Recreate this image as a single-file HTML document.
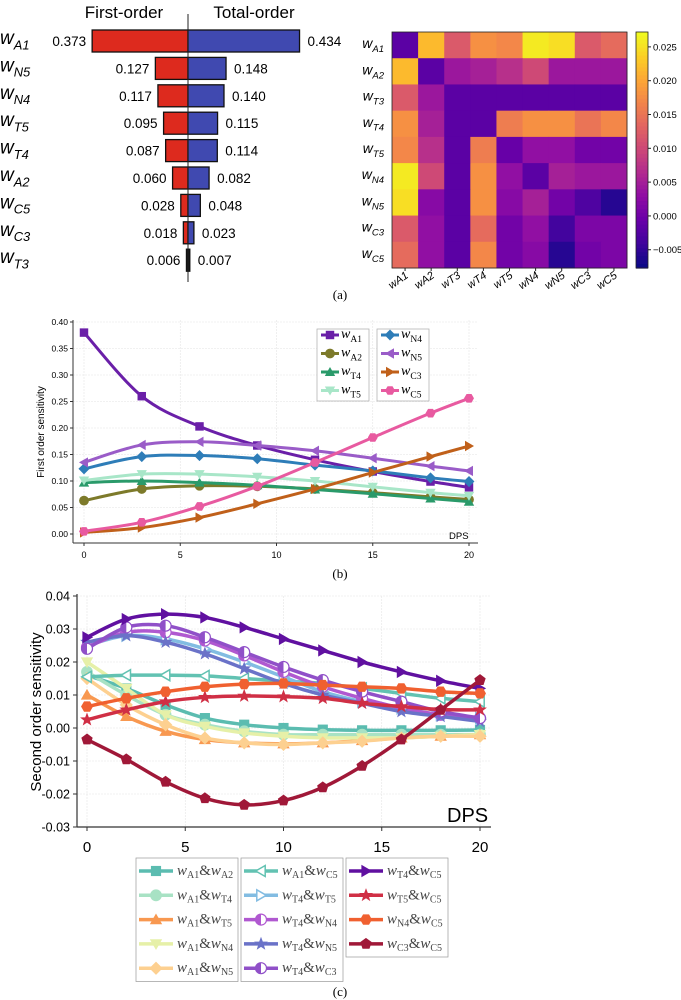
<!DOCTYPE html>
<html><head><meta charset="utf-8"><style>
body{margin:0;background:#fff}
svg{display:block}
text{font-family:"Liberation Sans",sans-serif}
.serif{font-family:"Liberation Serif",serif}
</style></head><body>
<svg id="fig" width="681" height="1000" viewBox="0 0 681 1000" xmlns="http://www.w3.org/2000/svg">
<g id="pa"></g>
<g id="pb"></g>
<g id="pc"></g>
<text x="340" y="299" font-size="13" text-anchor="middle" class="serif">(a)</text>
<text x="340" y="578" font-size="13" text-anchor="middle" class="serif">(b)</text>
<text x="340" y="996" font-size="13" text-anchor="middle" class="serif">(c)</text>
</svg>
<script>
// ---------- Panel (a) data ----------
const tornadoParams = ["A1","N5","N4","T5","T4","A2","C5","C3","T3"];
const firstOrder = [0.373,0.127,0.117,0.095,0.087,0.060,0.028,0.018,0.006];
const totalOrder = [0.434,0.148,0.140,0.115,0.114,0.082,0.048,0.023,0.007];
const heatLabels = ["A1","A2","T3","T4","T5","N4","N5","C3","C5"];
const heatValues = [
 [-0.002,0.022,0.012,0.018,0.017,0.026,0.025,0.012,0.014],
 [0.022,-0.002,0.004,0.005,0.007,0.010,0.004,0.004,0.004],
 [0.012,0.004,-0.002,-0.002,-0.002,-0.002,-0.002,-0.002,-0.002],
 [0.018,0.005,-0.002,-0.002,0.016,0.018,0.018,0.015,0.017],
 [0.017,0.007,-0.002,0.016,-0.001,0.003,0.003,0.000,0.000],
 [0.026,0.010,-0.002,0.018,0.003,-0.002,0.005,0.004,0.004],
 [0.025,0.002,-0.002,0.018,0.002,0.005,0.000,-0.003,-0.006],
 [0.012,0.003,-0.002,0.014,0.000,0.003,-0.004,0.001,0.001],
 [0.014,0.003,-0.002,0.017,0.000,0.002,-0.006,0.000,0.001]];
const cbarTicks = [-0.005,0.000,0.005,0.010,0.015,0.020,0.025];
// ---------- Panel (b) data ----------
const bX = [0,3,6,9,12,15,18,20];
const bNames = ["A1","A2","T4","T5","N4","N5","C3","C5"];
const bA1 = [.38,.26,.203,.167,.14,.118,.099,.088];
const bA2 = [.063,.085,.091,.09,.085,.078,.07,.065];
const bT4 = [.097,.1,.097,.092,.084,.076,.067,.061];
const bT5 = [.101,.113,.113,.108,.1,.089,.078,.072];
const bN4 = [.123,.146,.148,.142,.13,.119,.106,.099];
const bN5 = [.135,.168,.174,.167,.157,.143,.128,.119];
const bC3 = [.003,.012,.031,.057,.085,.116,.146,.166];
const bC5 = [.005,.022,.052,.09,.135,.182,.228,.256];
const bYTicks = [0,0.05,0.10,0.15,0.20,0.25,0.30,0.35,0.40];
const bXTicks = [0,5,10,15,20];
// ---------- Panel (c) data ----------
const cX = [0,2,4,6,8,10,12,14,16,18,20];
const cPairs = [["A1","A2"],["A1","T4"],["A1","T5"],["A1","N4"],["A1","N5"],["A1","C5"],["T4","T5"],["T4","N4"],["T4","N5"],["T4","C3"],["T4","C5"],["T5","C5"],["N4","C5"],["C3","C5"]];
const cA1A2 = [.016,.012,.007,.003,.001,0,-.0005,-.0007,-.0007,-.0007,-.0006];
const cA1T4 = [.017,.01,.004,.001,-.001,-.002,-.002,-.002,-.002,-.002,-.002];
const cA1T5 = [.01,.0035,-.001,-.0035,-.0045,-.0048,-.0045,-.0038,-.003,-.0025,-.002];
const cA1N4 = [.02,.012,.004,.0005,-.0015,-.0025,-.003,-.003,-.003,-.0025,-.002];
const cA1N5 = [.015,.007,.001,-.003,-.0045,-.005,-.0045,-.004,-.003,-.0025,-.0025];
const cA1C5 = [.0155,.016,.016,.0158,.015,.0142,.0135,.012,.0105,.009,.008];
const cT4T5 = [.025,.028,.027,.024,.02,.0155,.011,.008,.006,.004,.003];
const cT4N4 = [.0245,.029,.029,.0265,.022,.017,.0125,.009,.006,.004,.003];
const cT4N5 = [.026,.028,.026,.0225,.018,.0135,.01,.0075,.005,.0035,.002];
const cT4C3 = [.024,.0305,.031,.0275,.023,.0185,.0145,.011,.008,.005,.003];
const cT4C5 = [.0275,.033,.0345,.0335,.0305,.027,.0235,.02,.017,.0143,.012];
const cT5C5 = [.0025,.0055,.008,.0093,.0097,.0095,.009,.0075,.0065,.0056,.0055];
const cN4C5 = [.0065,.009,.011,.0125,.0133,.0135,.013,.0125,.012,.011,.0105];
const cC3C5 = [-.0035,-.0095,-.0163,-.0213,-.0233,-.022,-.018,-.0115,-.0035,.0055,.0145];
const cYTicks = [-0.03,-0.02,-0.01,0,0.01,0.02,0.03,0.04];
const cXTicks = [0,5,10,15,20];

const NS="http://www.w3.org/2000/svg";
function mk(tag,attrs,parent){const e=document.createElementNS(NS,tag);for(const k in attrs)e.setAttribute(k,attrs[k]);if(parent)parent.appendChild(e);return e;}
function wlabel(parent,x,y,sub,size,anchor,cls,italicSub){
  const t=mk('text',{x:x,y:y,'font-size':size,'text-anchor':anchor||'start'},parent);
  if(cls)t.setAttribute('class',cls);
  const a=mk('tspan',{'font-style':'italic'},t);a.textContent='w';
  const b=mk('tspan',{'font-size':size*0.68,dy:size*0.28,'font-style':italicSub?'italic':'normal'},t);b.textContent=sub;
  return t;
}
function smooth(p){let d=`M${p[0][0]},${p[0][1]}`;for(let i=0;i<p.length-1;i++){const p0=p[i-1]||p[i],p1=p[i],p2=p[i+1],p3=p[i+2]||p2;
 d+=` C${p1[0]+(p2[0]-p0[0])/6},${p1[1]+(p2[1]-p0[1])/6} ${p2[0]-(p3[0]-p1[0])/6},${p2[1]-(p3[1]-p1[1])/6} ${p2[0]},${p2[1]}`;}return d;}
function poly(n,r,x,y,rot){let s=[];for(let i=0;i<n;i++){const a=rot+i*2*Math.PI/n;s.push((x+r*Math.cos(a)).toFixed(1)+','+(y+r*Math.sin(a)).toFixed(1));}return s.join(' ');}
function marker(parent,type,x,y,r,color,hollow){
  const f=hollow?'#fff':color;const st={fill:f,stroke:color,'stroke-width':hollow?1.5:0.8};
  let e;
  if(type==='square')e=mk('rect',Object.assign({x:x-r*0.85,y:y-r*0.85,width:r*1.7,height:r*1.7},st),parent);
  else if(type==='circle')e=mk('circle',Object.assign({cx:x,cy:y,r:r},st),parent);
  else if(type==='up')e=mk('polygon',Object.assign({points:poly(3,r*1.15,x,y+1,-Math.PI/2)},st),parent);
  else if(type==='down')e=mk('polygon',Object.assign({points:poly(3,r*1.15,x,y-1,Math.PI/2)},st),parent);
  else if(type==='left')e=mk('polygon',Object.assign({points:poly(3,r*1.15,x+1,y,Math.PI)},st),parent);
  else if(type==='right')e=mk('polygon',Object.assign({points:poly(3,r*1.15,x-1,y,0)},st),parent);
  else if(type==='diamond')e=mk('polygon',Object.assign({points:poly(4,r*1.1,x,y,0)},st),parent);
  else if(type==='hex')e=mk('polygon',Object.assign({points:poly(6,r,x,y,0)},st),parent);
  else if(type==='pent')e=mk('polygon',Object.assign({points:poly(5,r,x,y,-Math.PI/2)},st),parent);
  else if(type==='star'){let s=[];for(let i=0;i<10;i++){const a=-Math.PI/2+i*Math.PI/5,rr=i%2?r*0.45:r*1.1;s.push((x+rr*Math.cos(a)).toFixed(1)+','+(y+rr*Math.sin(a)).toFixed(1));}e=mk('polygon',Object.assign({points:s.join(' ')},st),parent);}
  else if(type==='half'){e=mk('g',{},parent);mk('circle',{cx:x,cy:y,r:r,fill:'#fff',stroke:color,'stroke-width':1.2},e);mk('path',{d:`M${x},${y-r} A${r},${r} 0 0 0 ${x},${y+r} Z`,fill:color},e);}
  return e;
}
function plasma(t){const s=['#0d0887','#41049d','#6a00a8','#8f0da4','#b12a90','#cc4778','#e16462','#f2844b','#fca636','#fcce25','#f0f921'];
 t=Math.max(0,Math.min(1,t));const i=Math.min(9,Math.floor(t*10)),f=t*10-i;const h=c=>[1,3,5].map(k=>parseInt(c.substr(k,2),16));
 const a=h(s[i]),b=h(s[i+1]);return 'rgb('+a.map((v,k)=>Math.round(v+(b[k]-v)*f)).join(',')+')';}

// ================= Panel A =================
const pa=document.getElementById('pa');
const cx0=188,sc=257,rowY0=41,rowDy=27.4,bh=22;
let t=mk('text',{x:124,y:18,'font-size':17,'text-anchor':'middle'},pa);t.textContent='First-order';


t=mk('text',{x:254,y:18,'font-size':17,'text-anchor':'middle'},pa);t.textContent='Total-order';


tornadoParams.forEach((p,i)=>{
  const y=rowY0+i*rowDy;
  const l=wlabel(pa,0,y+3,p,19,'start','',true);
  
  
  const fw=firstOrder[i]*sc,tw=totalOrder[i]*sc;
  const r1=mk('rect',{x:cx0-fw,y:y-bh/2,width:fw,height:bh,fill:i===8?'#111':'#dd2a1e',stroke:'#111','stroke-width':1.3},pa);
  
  
  const r2=mk('rect',{x:cx0,y:y-bh/2,width:tw,height:bh,fill:i===8?'#111':'#4049b0',stroke:'#111','stroke-width':1.3},pa);
  
  
  const v1=mk('text',{x:cx0-fw-6,y:y+5,'font-size':13.5,'text-anchor':'end'},pa);v1.textContent=firstOrder[i].toFixed(3);
  
  
  const v2=mk('text',{x:cx0+tw+8,y:y+5,'font-size':13.5},pa);v2.textContent=totalOrder[i].toFixed(3);
  
  
});
const cl=mk('line',{x1:cx0,y1:14,x2:cx0,y2:282,stroke:'#222','stroke-width':1},pa);


// heatmap
const hx=392,hy=32,hw=235,hh=236,n=heatLabels.length,vmin=-0.0077,vmax=0.0272;
const cw=hw/n,ch=hh/n;
heatValues.forEach((row,r)=>row.forEach((v,c)=>{
  const e=mk('rect',{x:hx+c*cw,y:hy+r*ch,width:cw+0.5,height:ch+0.5,fill:plasma((v-vmin)/(vmax-vmin))},pa);
  
  
}));
mk('rect',{x:hx,y:hy,width:hw,height:hh,fill:'none',stroke:'#222','stroke-width':0.8},pa);
heatLabels.forEach((p,i)=>{
  const l=wlabel(pa,384,hy+i*ch+ch/2+3,p,14,'end','',true);
  
  
  const x=hx+i*cw+cw/2;
  mk('line',{x1:x,y1:hy+hh,x2:x,y2:hy+hh+3,stroke:'#222'},pa);
  const g=mk('g',{transform:`translate(${x+4},${hy+hh+9}) rotate(-35)`},pa);
  
  
  const tt=mk('text',{x:0,y:0,'font-size':11,'text-anchor':'end','font-style':'italic'},g);tt.textContent='w'+p;
});
// colorbar
const cbx=636,cby=32,cbw=12,cbh=236;
const cbg=mk('g',{},pa);


for(let i=0;i<60;i++){mk('rect',{x:cbx,y:cby+i*cbh/60,width:cbw,height:cbh/60+0.6,fill:plasma(1-i/59)},cbg);}
mk('rect',{x:cbx,y:cby,width:cbw,height:cbh,fill:'none',stroke:'#222','stroke-width':0.8},cbg);
cbarTicks.forEach(v=>{const y=cby+(vmax-v)/(vmax-vmin)*cbh;
  mk('line',{x1:cbx+cbw,y1:y,x2:cbx+cbw+3,y2:y,stroke:'#222'},cbg);
  const tx=mk('text',{x:cbx+cbw+5,y:y+3.5,'font-size':9.5},cbg);tx.textContent=(v<0?'\u2212':'')+Math.abs(v).toFixed(3);});

// ================= Panel B =================
const pb=document.getElementById('pb');
const bx=v=>84+v*19.25, by=v=>534-v*530;
const bSeries=[bA1,bA2,bT4,bT5,bN4,bN5,bC3,bC5];
const bColors=['#6a1fa8','#7d7a2a','#2a9a6a','#a8e6c8','#2e7db8','#9a5cc8','#c0601a','#e85aa0'];
const bMarks=['square','circle','up','down','diamond','left','right','hex'];
bYTicks.forEach(v=>{mk('line',{x1:73,y1:by(v),x2:478,y2:by(v),stroke:'#e4e4e4','stroke-width':0.6,'stroke-dasharray':'2,1'},pb);
  mk('line',{x1:70,y1:by(v),x2:73,y2:by(v),stroke:'#333'},pb);
  const tx=mk('text',{x:68,y:by(v)+3,'font-size':8.5,'text-anchor':'end'},pb);tx.textContent=v.toFixed(2);
  
  });
bXTicks.forEach(v=>{mk('line',{x1:bx(v),y1:320,x2:bx(v),y2:543,stroke:'#e4e4e4','stroke-width':0.6,'stroke-dasharray':'2,1'},pb);
  mk('line',{x1:bx(v),y1:543,x2:bx(v),y2:546,stroke:'#333'},pb);
  const tx=mk('text',{x:bx(v),y:558,'font-size':9,'text-anchor':'middle'},pb);tx.textContent=v;
  
  });
mk('line',{x1:73,y1:320,x2:73,y2:543,stroke:'#333'},pb);
mk('line',{x1:73,y1:543,x2:478,y2:543,stroke:'#333'},pb);
t=mk('text',{transform:'translate(44,432) rotate(-90)','font-size':10,'text-anchor':'middle'},pb);t.textContent='First order sensitivity';


t=mk('text',{x:449,y:539,'font-size':9.5},pb);t.textContent='DPS';


bSeries.forEach((s,k)=>{const g=mk('g',{},pb);
  
  
  const pts=s.map((v,i)=>[bx(bX[i]),by(v)]);
  mk('path',{d:smooth(pts),fill:'none',stroke:bColors[k],'stroke-width':3,'stroke-linecap':'round'},g);
  pts.forEach(p=>marker(g,bMarks[k],p[0],p[1],4.5,bColors[k]));});
// legend b
[[317,0],[377,4]].forEach(([lx,st])=>{
  const lg=mk('g',{},pb);
  
  
  mk('rect',{x:lx,y:329,width:52,height:72,fill:'#fff',stroke:'#aaa','stroke-width':0.7},lg);
  for(let j=0;j<4;j++){const k=st+j,y=335+j*18.5;
    mk('line',{x1:lx+4,y1:y,x2:lx+22,y2:y,stroke:bColors[k],'stroke-width':3},lg);
    marker(lg,bMarks[k],lx+13,y,4.5,bColors[k]);
    wlabel(lg,lx+24,y+3,bNames[k],14,'start','serif',false);}
});

// ================= Panel C =================
const pc=document.getElementById('pc');
const xc=v=>87+v*19.65, yc=v=>596+(0.04-v)*3300;
const cSeries=[cA1A2,cA1T4,cA1T5,cA1N4,cA1N5,cA1C5,cT4T5,cT4N4,cT4N5,cT4C3,cT4C5,cT5C5,cN4C5,cC3C5];
const cColors=['#5bbcb0','#a8e2c4','#f89850','#e6f0a8','#fdd090','#62c2b2','#82bce2','#b058d0','#6a72c8','#9050c8','#6010a0','#d02f45','#f06030','#a01838'];
const cMarks=['square','circle','up','down','diamond','left','right','half','star','half','right','star','hex','pent'];
const cHollow=[false,false,false,false,false,true,true,false,false,false,false,false,false,false];
cYTicks.forEach(v=>{mk('line',{x1:77,y1:yc(v),x2:490,y2:yc(v),stroke:'#e4e4e4','stroke-width':0.6,'stroke-dasharray':'2,1'},pc);
  mk('line',{x1:73,y1:yc(v),x2:77,y2:yc(v),stroke:'#333'},pc);
  const tx=mk('text',{x:70,y:yc(v)+4.5,'font-size':12.5,'text-anchor':'end'},pc);tx.textContent=v.toFixed(2);
  
  });
cXTicks.forEach(v=>{mk('line',{x1:xc(v),y1:596,x2:xc(v),y2:827,stroke:'#e4e4e4','stroke-width':0.6,'stroke-dasharray':'2,1'},pc);
  mk('line',{x1:xc(v),y1:827,x2:xc(v),y2:831,stroke:'#333'},pc);
  const tx=mk('text',{x:xc(v),y:852,'font-size':15,'text-anchor':'middle'},pc);tx.textContent=v;
  
  });
mk('line',{x1:77,y1:594,x2:77,y2:827,stroke:'#333','stroke-width':1.2},pc);
mk('line',{x1:77,y1:827,x2:491,y2:827,stroke:'#333','stroke-width':1.2},pc);
t=mk('text',{transform:'translate(41,712) rotate(-90)','font-size':15,'text-anchor':'middle'},pc);t.textContent='Second order sensitivity';


t=mk('text',{x:447,y:822,'font-size':20},pc);t.textContent='DPS';


cSeries.forEach((s,k)=>{const g=mk('g',{},pc);
  
  
  const pts=s.map((v,i)=>[xc(cX[i]),yc(v)]);
  mk('path',{d:smooth(pts),fill:'none',stroke:cColors[k],'stroke-width':3.5,'stroke-linecap':'round'},g);
  pts.forEach(p=>marker(g,cMarks[k],p[0],p[1],5.5,cColors[k],cHollow[k]));});
// legend c
[[136,0,5],[241,5,5],[346,10,4]].forEach(([lx,st,cnt])=>{
  const lg=mk('g',{},pc);
  
  
  mk('rect',{x:lx,y:858,width:102,height:cnt*24.5+1,fill:'#fff',stroke:'#999','stroke-width':0.7},lg);
  for(let j=0;j<cnt;j++){const k=st+j,y=871+j*24.3;
    mk('line',{x1:lx+3,y1:y,x2:lx+37,y2:y,stroke:cColors[k],'stroke-width':3.5},lg);
    marker(lg,cMarks[k],lx+20,y,5.5,cColors[k],cHollow[k]);
    const tt=mk('text',{x:lx+41,y:y+4,'font-size':15,'class':'serif',fill:'#444'},lg);
    const a=mk('tspan',{'font-style':'italic'},tt);a.textContent='w';
    const b=mk('tspan',{'font-size':10,dy:3},tt);b.textContent=cPairs[k][0];
    const c=mk('tspan',{dy:-3},tt);c.textContent='&';
    const d=mk('tspan',{'font-style':'italic'},tt);d.textContent='w';
    const e=mk('tspan',{'font-size':10,dy:3},tt);e.textContent=cPairs[k][1];}
});
</script>
</body></html>
